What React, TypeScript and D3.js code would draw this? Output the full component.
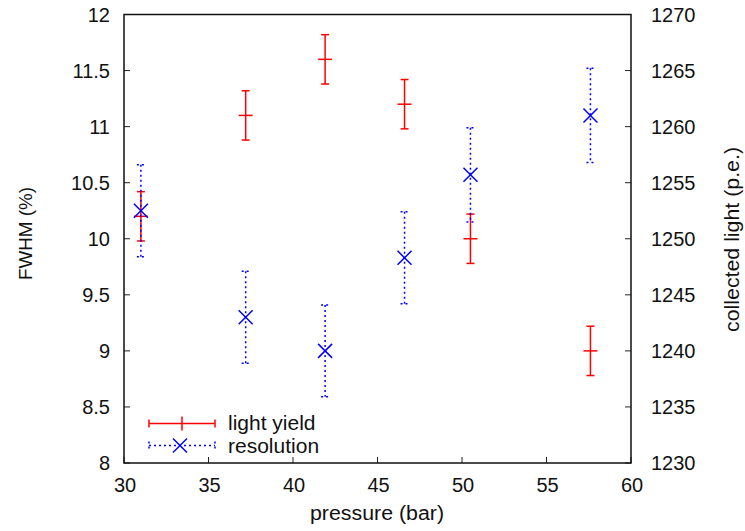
import React from 'react';
import * as d3 from 'd3';

// pressure (bar)
const pressure = [31.0, 37.2, 41.9, 46.6, 50.5, 57.6];
// light yield, collected light (p.e.) on right axis
const lightYield = [1252, 1261, 1266, 1262, 1250, 1240];
const lightYieldErr = [2.2, 2.2, 2.2, 2.2, 2.2, 2.2];
// resolution, FWHM (%) on left axis
const resolution = [10.25, 9.3, 9.0, 9.83, 10.57, 11.1];
const resolutionErr = [0.41, 0.41, 0.41, 0.41, 0.42, 0.42];

const xTicks = [30, 35, 40, 45, 50, 55, 60];
const yLeftTicks = [8, 8.5, 9, 9.5, 10, 10.5, 11, 11.5, 12];
const yRightTicks = [1230, 1235, 1240, 1245, 1250, 1255, 1260, 1265, 1270];

const W = 745;
const H = 531;
const margin = { top: 14.5, right: 114, bottom: 68, left: 124 };
const font = 'Liberation Sans, Arial, Helvetica, sans-serif';

export default function App() {
  const x = d3.scaleLinear().domain([30, 60]).range([margin.left, W - margin.right]);
  const yL = d3.scaleLinear().domain([8, 12]).range([H - margin.bottom, margin.top]);
  const yR = d3.scaleLinear().domain([1230, 1270]).range([H - margin.bottom, margin.top]);
  const x0 = margin.left, x1 = W - margin.right;
  const y0 = H - margin.bottom, y1 = margin.top;
  const cap = 4;
  const m = 7;
  const blueDash = '2,3';

  return (
    <svg width={W} height={H} style={{ position: 'absolute', left: 0, top: 0 }}>
      <rect width={W} height={H} fill="#fff" />
      {/* ticks */}
      {xTicks.map(t => (
        <g key={'x' + t}>
          <line x1={x(t)} x2={x(t)} y1={y0} y2={y0 - 6} stroke="#222" strokeWidth={1} />
          <text x={x(t) + 1} y={y0 + 29} textAnchor="middle" fontFamily={font} fontSize={20} fill="#111">{t}</text>
        </g>
      ))}
      {yLeftTicks.map(t => (
        <g key={'l' + t}>
          <line x1={x0} x2={x0 + 6} y1={yL(t)} y2={yL(t)} stroke="#222" strokeWidth={1} />
          <text x={x0 - 14} y={yL(t) + 7} textAnchor="end" fontFamily={font} fontSize={20} fill="#111">{t}</text>
        </g>
      ))}
      {yRightTicks.map(t => (
        <g key={'r' + t}>
          <line x1={x1} x2={x1 - 6} y1={yR(t)} y2={yR(t)} stroke="#222" strokeWidth={1} />
          <text x={x1 + 20} y={yR(t) + 7} textAnchor="start" fontFamily={font} fontSize={20} fill="#111">{t}</text>
        </g>
      ))}
      <rect x={x0} y={y1} width={x1 - x0} height={y0 - y1} fill="none" stroke="#111" strokeWidth={1.5} />

      {/* axis titles */}
      <text x={377} y={520} textAnchor="middle" fontFamily={font} fontSize={20} fill="#111"
        textLength={134} lengthAdjust="spacingAndGlyphs">pressure (bar)</text>
      <text transform="translate(32,233.5) rotate(-90)" textAnchor="middle" fontFamily={font} fontSize={19} fill="#111"
        textLength={93} lengthAdjust="spacingAndGlyphs">FWHM (%)</text>
      <text transform="translate(738.5,239.5) rotate(-90)" textAnchor="middle" fontFamily={font} fontSize={20} fill="#111"
        textLength={185} lengthAdjust="spacingAndGlyphs">collected light (p.e.)</text>

      {/* light yield */}
      {pressure.map((p, i) => {
        const cx = x(p), cy = yR(lightYield[i]);
        const top = yR(lightYield[i] + lightYieldErr[i]);
        const bot = yR(lightYield[i] - lightYieldErr[i]);
        return (
          <g key={'ly' + i} stroke="#ff0000" strokeWidth={1.5}>
            <line x1={cx} x2={cx} y1={top} y2={bot} />
            <line x1={cx - cap} x2={cx + cap} y1={top} y2={top} />
            <line x1={cx - cap} x2={cx + cap} y1={bot} y2={bot} />
            <line x1={cx - m} x2={cx + m} y1={cy} y2={cy} />
          </g>
        );
      })}

      {/* resolution */}
      {pressure.map((p, i) => {
        const cx = x(p), cy = yL(resolution[i]);
        const top = yL(resolution[i] + resolutionErr[i]);
        const bot = yL(resolution[i] - resolutionErr[i]);
        return (
          <g key={'rs' + i} stroke="#0000ff" strokeWidth={1.5}>
            <line x1={cx} x2={cx} y1={top} y2={bot} strokeDasharray={blueDash} />
            <line x1={cx - cap} x2={cx + cap} y1={top} y2={top} strokeDasharray={blueDash} />
            <line x1={cx - cap} x2={cx + cap} y1={bot} y2={bot} strokeDasharray={blueDash} />
            <line x1={cx - m} x2={cx + m} y1={cy - m} y2={cy + m} />
            <line x1={cx - m} x2={cx + m} y1={cy + m} y2={cy - m} />
          </g>
        );
      })}

      {/* legend */}
      <g stroke="#ff0000" strokeWidth={1.5}>
        <line x1={149} x2={215} y1={423.5} y2={423.5} />
        <line x1={149} x2={149} y1={419.5} y2={427.5} />
        <line x1={215} x2={215} y1={419.5} y2={427.5} />
        <line x1={182} x2={182} y1={416.5} y2={430.5} />
      </g>
      <g stroke="#0000ff" strokeWidth={1.5}>
        <line x1={149} x2={215} y1={445.5} y2={445.5} strokeDasharray={blueDash} />
        <line x1={149} x2={149} y1={441.5} y2={449.5} strokeDasharray={blueDash} />
        <line x1={215} x2={215} y1={441.5} y2={449.5} strokeDasharray={blueDash} />
        <line x1={173} x2={187} y1={438.5} y2={452.5} />
        <line x1={173} x2={187} y1={452.5} y2={438.5} />
      </g>
      <text x={228} y={430} fontFamily={font} fontSize={21} fill="#111">light yield</text>
      <text x={228} y={452.5} fontFamily={font} fontSize={21} fill="#111">resolution</text>
    </svg>
  );
}
